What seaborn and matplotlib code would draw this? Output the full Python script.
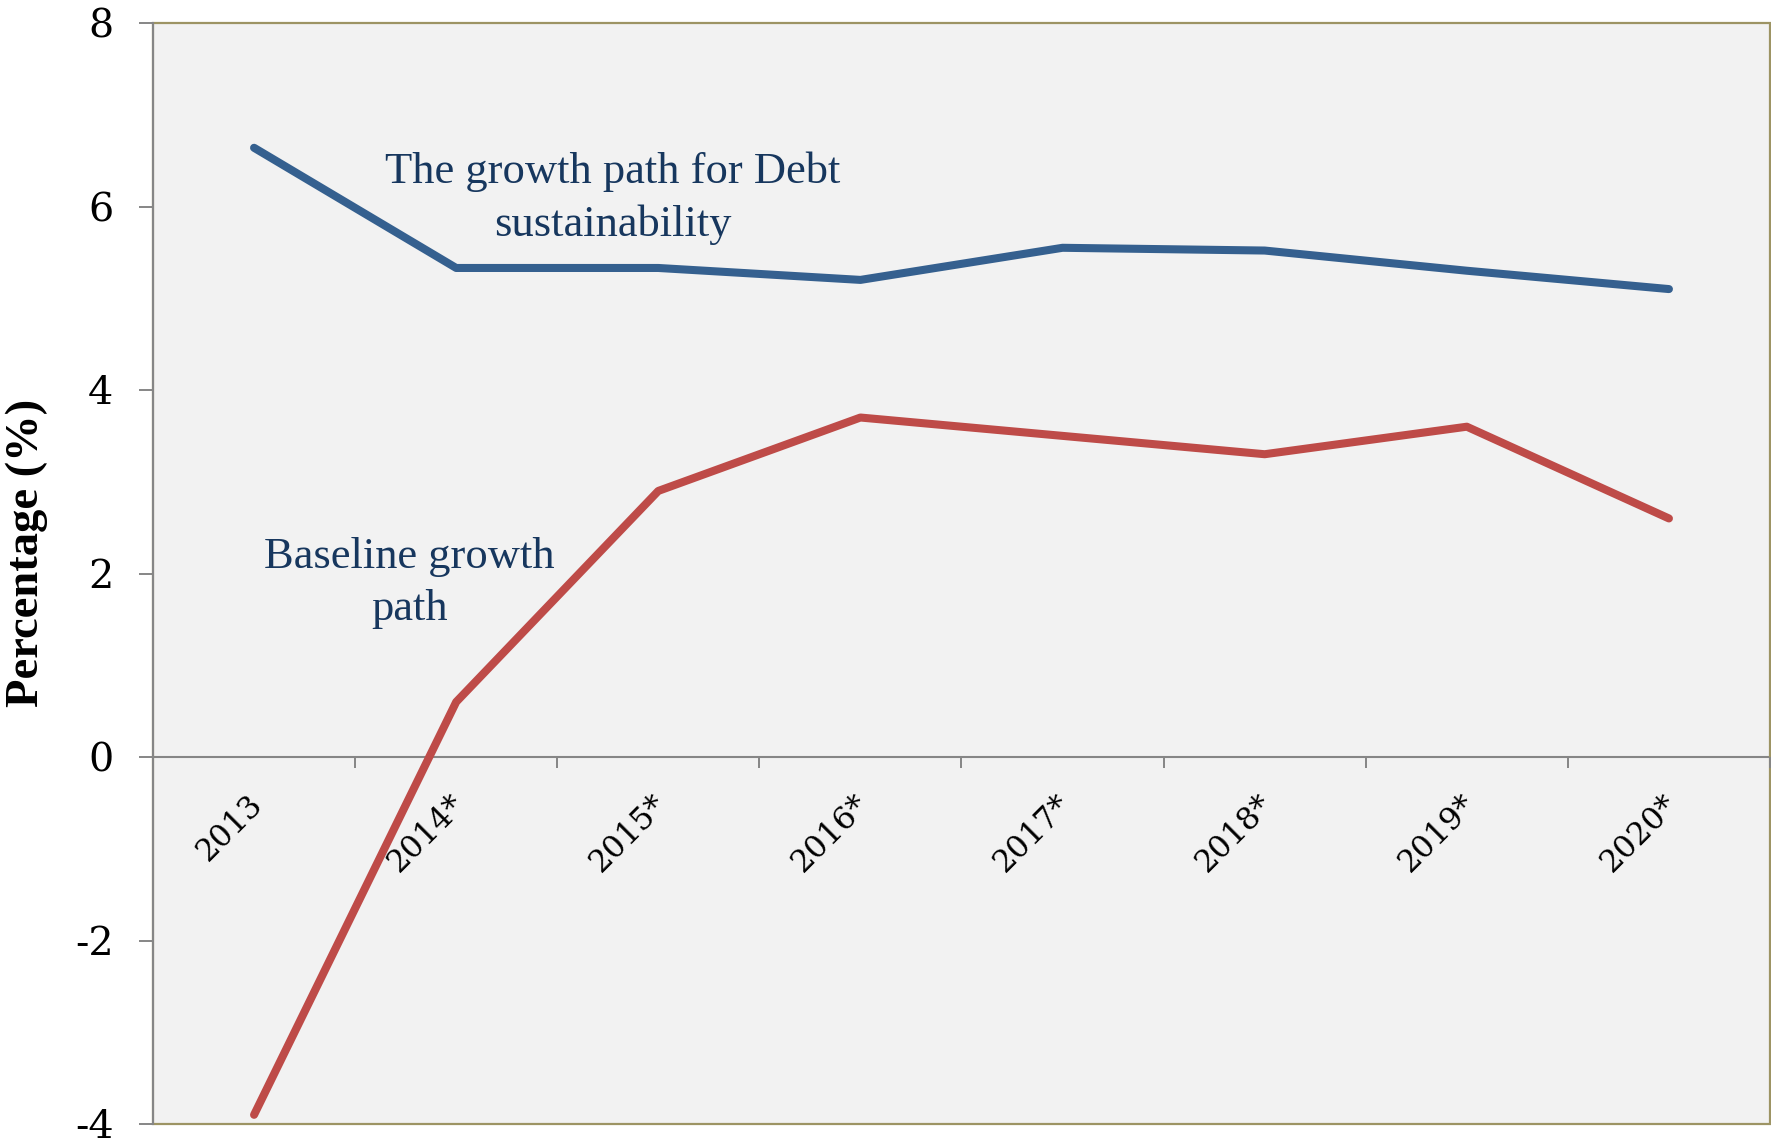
import matplotlib
matplotlib.use('Agg')
import matplotlib.pyplot as plt
import matplotlib.transforms as mtransforms
from matplotlib.patches import Rectangle
import pandas as pd
import seaborn as sns

# Growth paths (%), by year; starred years are projections
years = ['2013', '2014*', '2015*', '2016*', '2017*', '2018*', '2019*', '2020*']
debt_sustainability_growth = [6.64, 5.33, 5.33, 5.20, 5.55, 5.52, 5.30, 5.10]
baseline_growth = [-3.90, 0.60, 2.90, 3.70, 3.50, 3.30, 3.60, 2.60]
series_names = ['The growth path for Debt\nsustainability', 'Baseline growth\npath']
y_ticks = [-4, -2, 0, 2, 4, 6, 8]

df = pd.DataFrame({
    'year': years * 2,
    'value': debt_sustainability_growth + baseline_growth,
    'series': [series_names[0]] * len(years) + [series_names[1]] * len(years),
})

sns.set_style('white')
plt.rcParams['font.family'] = ['DejaVu Serif']
plt.rcParams['text.color'] = 'black'
plt.rcParams['axes.labelcolor'] = 'black'
plt.rcParams['xtick.labelcolor'] = 'black'
plt.rcParams['ytick.labelcolor'] = 'black'

W, H = 1771, 1146
fig = plt.figure(figsize=(W / 100, H / 100), dpi=100)
ax = fig.add_axes([153 / W, 22 / H, 1617 / W, 1101 / H])
ax.set_facecolor('#F2F2F2')

line_colors = ['#35608F', '#BE4B48']
sns.lineplot(data=df, x='year', y='value', hue='series', hue_order=series_names,
             palette=line_colors, linewidth=5.8, legend=False, sort=False,
             solid_capstyle='round', ax=ax)

ax.set_xlim(-0.5, len(years) - 0.5)
ax.set_ylim(min(y_ticks), max(y_ticks))

grey = '#868686'
# plot-area border
ax.add_patch(Rectangle((0, 0), 1, 1, transform=ax.transAxes, fill=False,
                       edgecolor='#9D9464', linewidth=1.6, clip_on=False, zorder=2.4))
ax.spines['top'].set_visible(False)
ax.spines['right'].set_visible(False)
ax.spines['left'].set_color(grey)
ax.spines['left'].set_linewidth(1.5)
ax.spines['bottom'].set_position(('data', 0))
ax.spines['bottom'].set_color(grey)
ax.spines['bottom'].set_linewidth(1.5)
ax.spines['bottom'].set_zorder(1)
ax.set_axisbelow(False)

# y axis
ax.set_yticks(y_ticks, labels=[str(t) for t in y_ticks])
ax.tick_params(axis='y', which='major', direction='out', length=10, width=1.4,
               color=grey, labelsize=28.5, labelcolor='black', pad=18.5, left=True)

# x axis: labels at category centres, tick marks between categories
ax.set_xticks(range(len(years)), labels=years)
ax.set_xticks([i + 0.5 for i in range(len(years))], minor=True)
ax.tick_params(axis='x', which='major', length=0, labelsize=22.5, labelcolor='black',
               pad=30.5, bottom=True)
ax.tick_params(axis='x', which='minor', direction='out', length=8, width=1.4,
               color=grey, bottom=True)
shift = mtransforms.ScaledTranslation(4 / 100, 0, fig.dpi_scale_trans)
for lab in ax.get_xticklabels():
    lab.set_rotation(45)
    lab.set_rotation_mode('anchor')
    lab.set_ha('right')
    lab.set_va('center')
    lab.set_transform(lab.get_transform() + shift)

ax.set_xlabel('')
ax.set_ylabel('Percentage (%)', fontfamily='Liberation Serif', fontweight='bold',
              fontsize=33.5, va='center', color='black')
ax.yaxis.set_label_coords(-0.0779, 0.5186)

# series labels (y = baseline of the last line)
text_color = '#17375E'
ax.text(1.776, 5.678, series_names[0], ha='center', va='baseline',
        multialignment='center', fontsize=32, family='Liberation Serif',
        color=text_color, linespacing=1.4)
ax.text(0.767, 1.493, series_names[1], ha='center', va='baseline',
        multialignment='center', fontsize=32, family='Liberation Serif',
        color=text_color, linespacing=1.4)

fig.savefig('out.png', dpi=100, facecolor='white')
